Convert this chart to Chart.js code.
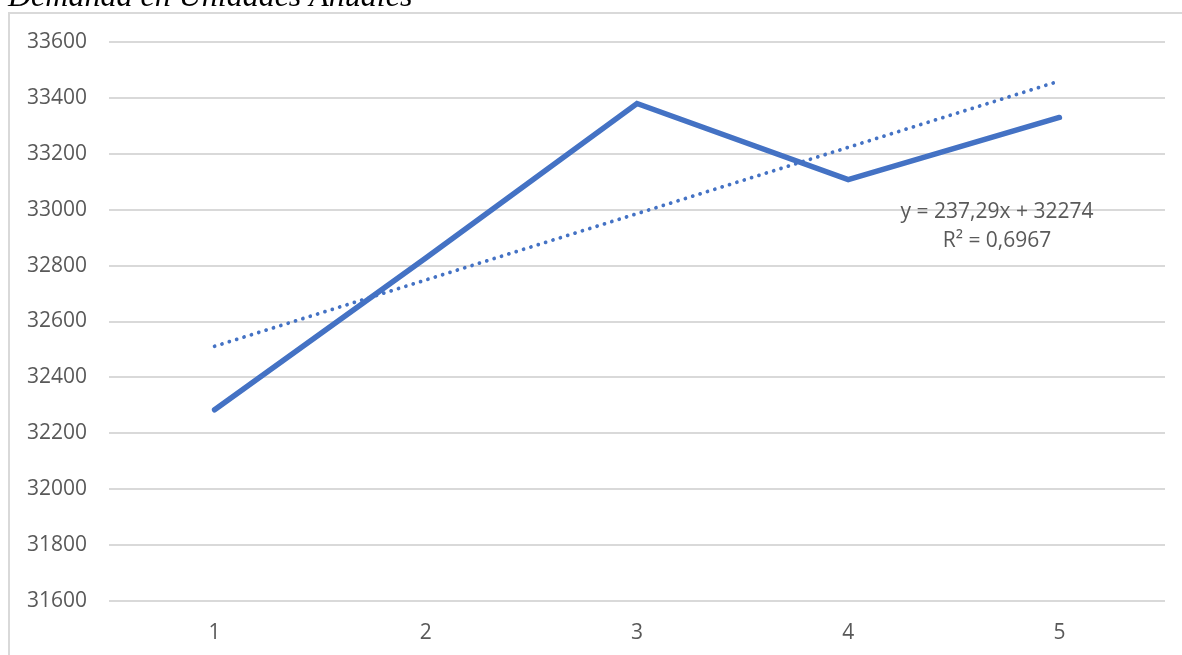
<!DOCTYPE html>
<html>
<head>
<meta charset="utf-8">
<script src="https://cdn.jsdelivr.net/npm/chart.js@4/dist/chart.umd.min.js"></script>
<style>
  html, body { margin: 0; padding: 0; background: #ffffff; overflow: hidden; }
  #wrap { position: relative; width: 1182px; height: 655px; }
  #frame {
    position: absolute; left: 8px; top: 12px; width: 1200px; height: 700px;
    border-left: 2px solid #d9d9d9; border-top: 2px solid #d9d9d9;
    box-sizing: border-box; pointer-events: none;
  }
  canvas { position: absolute; left: 0; top: 0; }
</style>
</head>
<body>
<div id="wrap">
  <div id="frame"></div>
  <canvas id="chart" width="1182" height="655"></canvas>
</div>
<script>
// Annual demand per year index, with its linear trend
const categories = ['1', '2', '3', '4', '5'];
const demand = [32284, 32827, 33380, 33108, 33330];
const trendSlope = 237.29;
const trendIntercept = 32274;
const rSquared = 0.6967;
const yTicks = { min: 31600, max: 33600, step: 200 };

const chartTitle = 'Demanda en Unidades Anuales';
const fmt = v => String(v).replace('.', ',');
const trendLabel = [
  'y = ' + fmt(trendSlope) + 'x + ' + trendIntercept,
  'R\u00B2 = ' + fmt(rSquared)
];
const trendValues = categories.map(c => trendIntercept + trendSlope * Number(c));

const textColor = '#595959';
const seriesColor = '#4472C4';
const labelFont = '"Open Sans", "Noto Sans", sans-serif';

// Title and trend-line equation drawn straight on the canvas
const overlayText = {
  id: 'overlayText',
  afterDraw(chart) {
    const ctx = chart.ctx;
    ctx.save();
    ctx.fillStyle = '#000000';
    ctx.font = 'italic 32px "Liberation Serif", "Times New Roman", serif';
    ctx.textAlign = 'left';
    ctx.textBaseline = 'alphabetic';
    ctx.fillText(chartTitle, 8, 6);

    ctx.fillStyle = textColor;
    ctx.font = '21px ' + labelFont;
    ctx.textAlign = 'center';
    ctx.fillText(trendLabel[0], 997, 218);
    ctx.fillText(trendLabel[1], 997, 247);
    ctx.restore();
  }
};

new Chart(document.getElementById('chart'), {
  type: 'line',
  data: {
    labels: categories,
    datasets: [
      {
        label: 'Lineal',
        data: trendValues,
        borderColor: seriesColor,
        borderWidth: 3.8,
        borderDash: [0.01, 7.7],
        borderCapStyle: 'round',
        pointRadius: 0,
        tension: 0,
        fill: false,
        order: 0
      },
      {
        label: 'Demanda',
        data: demand,
        borderColor: seriesColor,
        borderWidth: 5.5,
        borderCapStyle: 'round',
        borderJoinStyle: 'miter',
        pointRadius: 0,
        tension: 0,
        fill: false,
        order: 1
      }
    ]
  },
  options: {
    responsive: false,
    animation: false,
    events: [],
    layout: { padding: { left: 0, right: 17, top: 42, bottom: 0 } },
    plugins: {
      legend: { display: false },
      tooltip: { enabled: false },
      title: { display: false }
    },
    scales: {
      x: {
        type: 'category',
        offset: true,
        grid: { display: false, drawTicks: false },
        border: { display: false },
        ticks: { color: textColor, font: { family: labelFont, size: 21 }, padding: 19 },
        afterFit(scale) { scale.height = 54; }
      },
      y: {
        min: yTicks.min,
        max: yTicks.max,
        grid: { color: '#d9d9d9', lineWidth: 2, drawTicks: false },
        border: { display: false },
        ticks: {
          stepSize: yTicks.step,
          color: textColor,
          font: { family: labelFont, size: 21 },
          padding: 22,
          callback: v => String(v)
        },
        afterFit(scale) { scale.width = 109; }
      }
    }
  },
  plugins: [overlayText]
});
</script>
</body>
</html>
